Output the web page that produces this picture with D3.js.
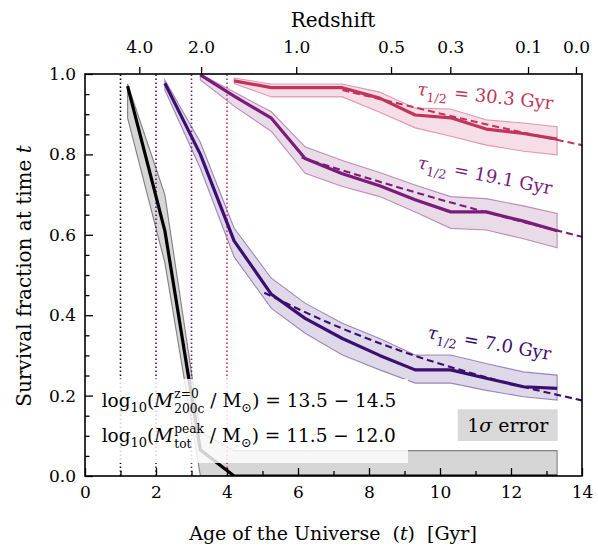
<!DOCTYPE html>
<html><head><meta charset="utf-8">
<script src="https://cdn.jsdelivr.net/npm/d3@7"></script>
<style>body{margin:0;background:#fff} svg{display:block} text{font-family:"DejaVu Serif",serif}</style>
</head><body><svg id="c" width="598" height="549"></svg>
<script>
// ---------------- data ----------------
const snapTimes = [1.2, 2.25, 3.25, 4.2, 5.25, 6.2, 7.25, 8.3, 9.3, 10.3, 11.3, 12.35, 13.3];

// black (first snapshot index 0)
const blackStart = 0;
const blackLine  = [0.970, 0.610, 0.065, 0, 0, 0, 0, 0, 0, 0, 0, 0, 0];
const blackUpper = [0.975, 0.700, 0.110, 0.063, 0.063, 0.063, 0.063, 0.063, 0.063, 0.063, 0.063, 0.063, 0.063];
const blackLower = [0.890, 0.530, 0, 0, 0, 0, 0, 0, 0, 0, 0, 0, 0];

// indigo, tau = 7.0 Gyr (starts at snapshot index 1)
const indigoStart = 1;
const indigoLine  = [0.977, 0.800, 0.585, 0.452, 0.392, 0.342, 0.300, 0.264, 0.264, 0.243, 0.222, 0.218];
const indigoUpper = [0.985, 0.830, 0.617, 0.492, 0.430, 0.380, 0.342, 0.301, 0.301, 0.280, 0.259, 0.251];
const indigoLower = [0.960, 0.765, 0.545, 0.417, 0.355, 0.301, 0.264, 0.231, 0.231, 0.213, 0.197, 0.189];

// purple, tau = 19.1 Gyr (starts at snapshot index 2)
const purpleStart = 2;
const purpleLine  = [0.998, 0.945, 0.890, 0.790, 0.752, 0.722, 0.687, 0.657, 0.657, 0.634, 0.610];
const purpleUpper = [1.000, 0.955, 0.906, 0.819, 0.785, 0.755, 0.724, 0.695, 0.690, 0.672, 0.653];
const purpleLower = [0.985, 0.920, 0.857, 0.753, 0.720, 0.695, 0.657, 0.616, 0.612, 0.590, 0.568];

// red, tau = 30.3 Gyr (starts at snapshot index 3)
const redStart = 3;
const redLine  = [0.983, 0.966, 0.966, 0.966, 0.940, 0.898, 0.891, 0.863, 0.852, 0.838];
const redUpper = [0.990, 0.975, 0.975, 0.975, 0.955, 0.915, 0.913, 0.886, 0.878, 0.869];
const redLower = [0.976, 0.943, 0.943, 0.943, 0.905, 0.866, 0.845, 0.823, 0.808, 0.799];

// dashed half-life fits
const indigoFitT = [5.05, 7, 9, 11, 14];
const indigoFitF = [0.456, 0.376, 0.308, 0.253, 0.188];
const purpleFitT = [6.1, 8, 10, 12, 14];
const purpleFitF = [0.792, 0.740, 0.688, 0.640, 0.595];
const redFitT = [7.25, 9, 11, 14];
const redFitF = [0.960, 0.923, 0.881, 0.823];

// formation-time markers (dotted verticals)
const markerTimes = [1, 2, 3, 4];

// half-life labels
const tauLabels = ["7.0", "19.1", "30.3"];

// axes
const xTicks = [0, 2, 4, 6, 8, 10, 12, 14];
const yTicks = [0, 0.2, 0.4, 0.6, 0.8, 1.0];
const redshiftLabels = ["4.0", "2.0", "1.0", "0.5", "0.3", "0.1", "0.0"];
const redshiftAges   = [1.53, 3.27, 5.95, 8.62, 10.29, 12.48, 13.83];

// ---------------- layout ----------------
const FONT = '"DejaVu Serif",serif';
const C = {black:"#000000", indigo:"#3b0f6f", purple:"#7a1c78", red:"#c2345c"};
const L = 85, R = 582, T = 74, B = 476;
const svg = d3.select("#c");
const x = d3.scaleLinear().domain([0, 14]).range([L, R]);
const y = d3.scaleLinear().domain([0, 1]).range([B, T]);

const defs = svg.append("defs");
defs.append("clipPath").attr("id","clip").append("rect")
  .attr("x", L).attr("y", T).attr("width", R-L).attr("height", B-T);
const plot = svg.append("g").attr("clip-path","url(#clip)");

function series(start, vals) { return vals.map((v,i)=>({t:snapTimes[start+i], v})); }
const area = d3.area().x(d=>x(d.t)).y0(d=>y(d.lo)).y1(d=>y(d.hi));
const line = d3.line().x(d=>x(d.t)).y(d=>y(d.v));
const fitLine = d3.line().x(d=>x(d.t)).y(d=>y(d.v)).curve(d3.curveMonotoneX);

const groups = [
  {start:blackStart,  ln:blackLine,  up:blackUpper,  lo:blackLower,  c:C.black},
  {start:indigoStart, ln:indigoLine, up:indigoUpper, lo:indigoLower, c:C.indigo},
  {start:purpleStart, ln:purpleLine, up:purpleUpper, lo:purpleLower, c:C.purple},
  {start:redStart,    ln:redLine,    up:redUpper,    lo:redLower,    c:C.red},
];

// bands
groups.forEach(g => {
  const d = g.up.map((u,i)=>({t:snapTimes[g.start+i], hi:u, lo:g.lo[i]}));
  plot.append("path").attr("d", area(d))
    .attr("fill", g.c).attr("fill-opacity", 0.16)
    .attr("stroke", g.c).attr("stroke-opacity", 0.45).attr("stroke-width", 1.1);
});

// dotted markers
const markerColors = [C.black, C.indigo, C.purple, C.red];
markerTimes.forEach((t,i) => {
  plot.append("line").attr("x1", x(t)).attr("x2", x(t)).attr("y1", y(0)).attr("y2", y(1))
    .attr("stroke", markerColors[i]).attr("stroke-width", 1.6).attr("stroke-dasharray", "1.6,2.4");
});

// dashed fits
[[indigoFitT, indigoFitF, C.indigo],[purpleFitT, purpleFitF, C.purple],[redFitT, redFitF, C.red]].forEach(([ts, fs, c]) => {
  const d = ts.map((t,i)=>({t, v:fs[i]}));
  plot.append("path").attr("d", fitLine(d)).attr("fill","none")
    .attr("stroke", c).attr("stroke-width", 2.1).attr("stroke-dasharray", "7,4");
});

// main lines
groups.forEach(g => {
  plot.append("path").attr("d", line(series(g.start, g.ln))).attr("fill","none")
    .attr("stroke", g.c).attr("stroke-width", 3.2).attr("stroke-linejoin","round");
});

// ---------------- rich text helper ----------------
function rich(parent, segs, size, color) {
  const g = parent.append("g").attr("fill", color);
  let cx = 0;
  const mk = (txt, yy, fs, it) => g.append("text").attr("x", cx).attr("y", yy)
      .attr("font-size", fs).attr("font-style", it ? "italic" : null).text(txt);
  segs.forEach(s => {
    if (s.stack) {
      const a = mk(s.stack[0], -0.46*size, 0.66*size, false);
      const b = mk(s.stack[1], 0.34*size, 0.66*size, false);
      cx += Math.max(a.node().getComputedTextLength(), b.node().getComputedTextLength());
    } else {
      const yy = s.pos === "sub" ? 0.30*size : (s.pos === "sup" ? -0.40*size : 0);
      const fs = s.pos ? 0.7*size : size;
      const t = mk(s.t, yy, fs, s.it);
      cx += t.node().getComputedTextLength() + (s.pad || 0);
    }
  });
  return {g, width: cx};
}
const NB = "\u00a0";

// legend background
svg.append("rect").attr("x", 93).attr("y", 379).attr("width", 315).attr("height", 84)
  .attr("fill", "#fff").attr("fill-opacity", 0.82);

// legend text
rich(svg.append("g").attr("transform","translate(101.7,406.7)"), [
  {t:"log"}, {t:"10", pos:"sub"}, {t:"("}, {t:"M", it:true, pad:1}, {stack:["z=0","200c"]},
  {t:NB+"/"+NB+"M"}, {t:"\u2299", pos:"sub"}, {t:")"+NB+"="+NB+"13.5"+NB+"\u2212"+NB+"14.5"}
], 18.5, "#000");
rich(svg.append("g").attr("transform","translate(101.7,441.7)"), [
  {t:"log"}, {t:"10", pos:"sub"}, {t:"("}, {t:"M", it:true, pad:1}, {stack:["peak","tot"]},
  {t:NB+"/"+NB+"M"}, {t:"\u2299", pos:"sub"}, {t:")"+NB+"="+NB+"11.5"+NB+"\u2212"+NB+"12.0"}
], 18.5, "#000");

// 1 sigma box
svg.append("rect").attr("x", 457.7).attr("y", 409.3).attr("width", 100).attr("height", 31.7).attr("fill", "#d9d9d9");
const sg = svg.append("g");
const sr = rich(sg, [{t:"1"}, {t:"\u03c3", it:true}, {t:NB+"error"}], 19, "#000");
sg.attr("transform", `translate(${507.7 - sr.width/2},432)`);

// tau labels
const tauPos = [
  {x:426.7, y:338.3, a:10, c:C.indigo},
  {x:416.7, y:168.3, a:11, c:C.purple},
  {x:416.7, y:95,    a:6,  c:C.red},
];
tauLabels.forEach((v,i) => {
  const p = tauPos[i];
  const g = svg.append("g").attr("transform", `translate(${p.x},${p.y}) rotate(${p.a})`);
  rich(g, [{t:"\u03c4", it:true}, {t:"1/2", pos:"sub", pad:1}, {t:NB+"="+NB+v+NB+"Gyr"}], 18, p.c);
});

// ---------------- axes ----------------
const fmtY = d3.format(".1f");
const ax = svg.append("g");
// bottom
ax.append("g").attr("transform", `translate(0,${B})`)
  .call(d3.axisBottom(x).tickValues(xTicks).tickSize(-8).tickPadding(10).tickFormat(d3.format("d")));
ax.append("g").attr("transform", `translate(0,${B})`)
  .call(d3.axisBottom(x).tickValues(d3.range(1,14,2)).tickSize(-5).tickFormat(""));
// left
ax.append("g").attr("transform", `translate(${L},0)`)
  .call(d3.axisLeft(y).tickValues(yTicks).tickSize(-8).tickPadding(9).tickFormat(fmtY));
ax.append("g").attr("transform", `translate(${L},0)`)
  .call(d3.axisLeft(y).tickValues(d3.range(1,20).map(i=>i*0.05).filter((v,i)=> (i+1)%4!==0)).tickSize(-4.5).tickFormat(""));
// top (redshift)
const topScale = d3.scaleLinear().domain([0,14]).range([L,R]);
ax.append("g").attr("transform", `translate(0,${T})`)
  .call(d3.axisTop(topScale).tickValues(redshiftAges).tickSize(7).tickPadding(14)
    .tickFormat((d,i)=>redshiftLabels[i]));
ax.selectAll(".domain").remove();
ax.selectAll(".tick line").attr("stroke", "#000").attr("stroke-width", 1.3);
ax.selectAll(".tick text").attr("font-family", FONT).attr("font-size", 17).attr("fill","#000");

// frame
svg.append("rect").attr("x", L).attr("y", T).attr("width", R-L).attr("height", B-T)
  .attr("fill","none").attr("stroke","#000").attr("stroke-width", 1.6);

// axis titles
const xt = svg.append("g");
const xr = rich(xt, [{t:"Age of the Universe"+NB+NB}, {t:"("}, {t:"t", it:true}, {t:")"+NB+NB+"[Gyr]"}], 19, "#000");
xt.attr("transform", `translate(${333 - xr.width/2},540)`);

const yt = svg.append("g");
const yr = rich(yt, [{t:"Survival fraction at time"+NB}, {t:"t", it:true}], 20, "#000");
yt.attr("transform", `translate(31,${276 + yr.width/2}) rotate(-90)`);

svg.append("text").attr("x", 333).attr("y", 27).attr("text-anchor","middle")
  .attr("font-size", 20).text("Redshift");
</script></body></html>
